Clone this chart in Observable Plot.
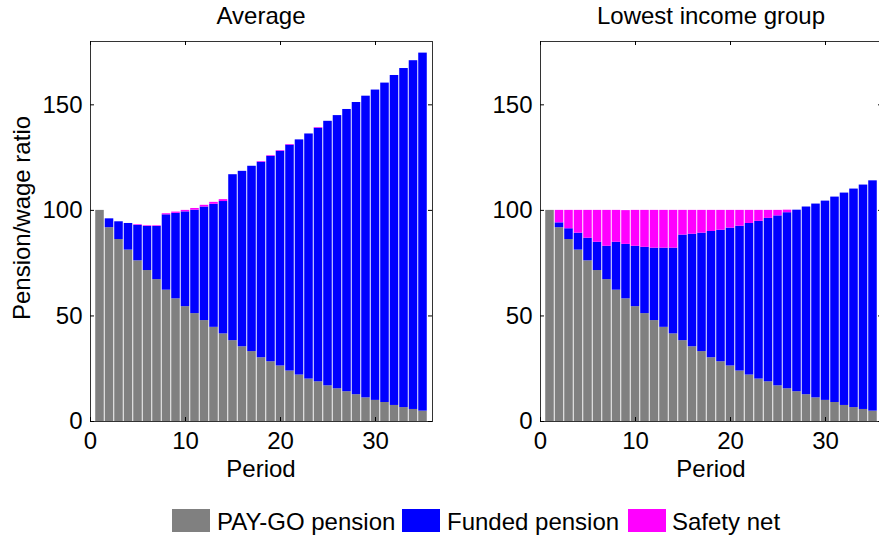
<!DOCTYPE html>
<html><head><meta charset="utf-8">
<script src="https://cdn.jsdelivr.net/npm/d3@7"></script>
<script src="https://cdn.jsdelivr.net/npm/@observablehq/plot@0.6"></script>
<style>
html,body{margin:0;padding:0;background:#fff;overflow:hidden;}
#wrap{position:relative;width:879px;height:538px;overflow:hidden;font-family:"Liberation Sans",Arial,sans-serif;color:#000;}
.panel{position:absolute;top:0;width:450px;height:490px;}
.panel svg{max-width:none !important;}
.t{position:absolute;white-space:nowrap;line-height:1;font-size:24px;}
.c{transform:translateX(-50%);}
.sw{position:absolute;width:38px;height:23px;}
.lg{position:absolute;white-space:nowrap;line-height:1;font-size:24px;}
</style></head><body><div id="wrap"></div>
<script>
const periods = d3.range(1, 36);
const components = ["PAY-GO pension", "Funded pension", "Safety net"];
const colors = ["#808080", "#0000ff", "#ff00ff"];
const xTicks = [0, 10, 20, 30];
const yTicks = [0, 50, 100, 150];
const titles = ["Average", "Lowest income group"];

// PAY-GO pension (same in both panels)
const payGo = [100, 91.8, 86.2, 81.2, 76.1, 71.5, 67.2, 62.2, 58.1, 54.4, 51.1, 47.8, 44.6, 41.5, 38.3, 35.4, 33.1, 30.2, 28.3, 26.3, 23.9, 22.0, 20.1, 18.8, 16.9, 15.5, 14.1, 12.7, 11.2, 10.0, 9.0, 7.6, 6.6, 5.7, 4.9];

// Average: funded pension and safety net
const avgFunded = [0, 4.2, 8.4, 12.6, 16.8, 20.9, 25.2, 35.7, 40.5, 44.9, 49.0, 53.8, 58.3, 62.7, 78.6, 83.1, 87.8, 92.6, 97.3, 101.7, 107.0, 111.4, 116.1, 120.1, 125.3, 129.4, 133.7, 138.4, 142.9, 147.0, 151.3, 156.3, 160.6, 165.2, 169.6];
const avgSafety = [0, 0, 0, 0, 0.3, 0.3, 0.3, 0.5, 0.6, 0.7, 0.8, 0.8, 0.9, 0.9, 0, 0, 0, 0.3, 0.3, 0.3, 0.3, 0, 0, 0.3, 0, 0, 0, 0, 0, 0, 0, 0, 0, 0, 0];

// Lowest income group: funded pension and safety net
const lowFunded = [0, 2.3, 5.1, 8.0, 10.7, 13.4, 15.8, 22.7, 25.8, 28.6, 31.4, 34.3, 37.5, 40.6, 50.0, 53.3, 56.1, 59.8, 62.3, 65.3, 68.6, 71.8, 74.7, 77.4, 80.5, 83.4, 86.0, 88.9, 91.8, 94.4, 97.3, 100.6, 103.5, 106.3, 109.1];
const lowSafety = [0, 5.9, 8.7, 10.8, 13.2, 15.1, 17.0, 15.1, 16.0, 17.0, 17.5, 17.9, 17.9, 17.9, 11.7, 11.3, 10.8, 10.0, 9.4, 8.4, 7.5, 6.2, 5.2, 3.8, 2.6, 1.2, 0, 0, 0, 0, 0, 0, 0, 0, 0];

function rowsFor(funded, safety) {
  const rows = [];
  periods.forEach((p, i) => {
    rows.push({period: p, component: components[0], value: payGo[i]});
    rows.push({period: p, component: components[1], value: funded[i]});
    rows.push({period: p, component: components[2], value: safety[i]});
  });
  return rows;
}

const W = 450, H = 490, MT = 41, MB = 69, ML = 90, MR = 18;
const innerH = H - MT - MB, innerW = W - ML - MR;

function panel(rows) {
  return Plot.plot({
    width: W, height: H,
    marginTop: MT, marginBottom: MB, marginLeft: ML, marginRight: MR,
    style: {fontFamily: "'Liberation Sans', Arial, sans-serif", fontSize: "24px", color: "#000", background: "transparent", overflow: "visible", maxWidth: "none"},
    x: {domain: [0, 36], label: null},
    y: {domain: [0, 180], label: null},
    color: {domain: components, range: colors},
    marks: [
      Plot.rectY(rows, {x1: d => d.period - 0.45, x2: d => d.period + 0.45, y: "value", fill: "component", z: "component", order: components}),
      Plot.frame({stroke: "#333"}),
      Plot.tickX(xTicks, {x: d => d, insetTop: innerH - 4, stroke: "#000"}),
      Plot.tickX(xTicks, {x: d => d, insetBottom: innerH - 4, stroke: "#000"}),
      Plot.tickY(yTicks, {y: d => d, insetRight: innerW - 4, stroke: "#000"}),
      Plot.tickY(yTicks, {y: d => d, insetLeft: innerW - 4, stroke: "#000"}),
      Plot.axisX({ticks: xTicks, tickSize: 0, tickPadding: 10, label: null}),
      Plot.axisY({ticks: yTicks, tickSize: 0, tickPadding: 8, label: null})
    ]
  });
}

const wrap = document.getElementById("wrap");
const data = [rowsFor(avgFunded, avgSafety), rowsFor(lowFunded, lowSafety)];
data.forEach((rows, k) => {
  const div = document.createElement("div");
  div.className = "panel";
  div.style.left = (k * 450) + "px";
  div.appendChild(panel(rows));
  wrap.appendChild(div);
  const cx = k * 450 + ML + innerW / 2;
  const t = document.createElement("div");
  t.className = "t c"; t.style.left = cx + "px"; t.style.top = "4px"; t.textContent = titles[k];
  wrap.appendChild(t);
  const xl = document.createElement("div");
  xl.className = "t c"; xl.style.left = cx + "px"; xl.style.top = "457px"; xl.textContent = "Period";
  wrap.appendChild(xl);
});

const yl = document.createElement("div");
yl.className = "t";
yl.style.left = "22px"; yl.style.top = "218px";
yl.style.transform = "translate(-50%,-50%) rotate(-90deg)";
yl.textContent = "Pension/wage ratio";
wrap.appendChild(yl);

const swX = [172, 402, 628], txX = [217, 447, 672];
components.forEach((c, i) => {
  const s = document.createElement("div");
  s.className = "sw"; s.style.left = swX[i] + "px"; s.style.top = "509px"; s.style.background = colors[i];
  wrap.appendChild(s);
  const l = document.createElement("div");
  l.className = "lg"; l.style.left = txX[i] + "px"; l.style.top = "510px"; l.textContent = c;
  wrap.appendChild(l);
});
</script></body></html>
